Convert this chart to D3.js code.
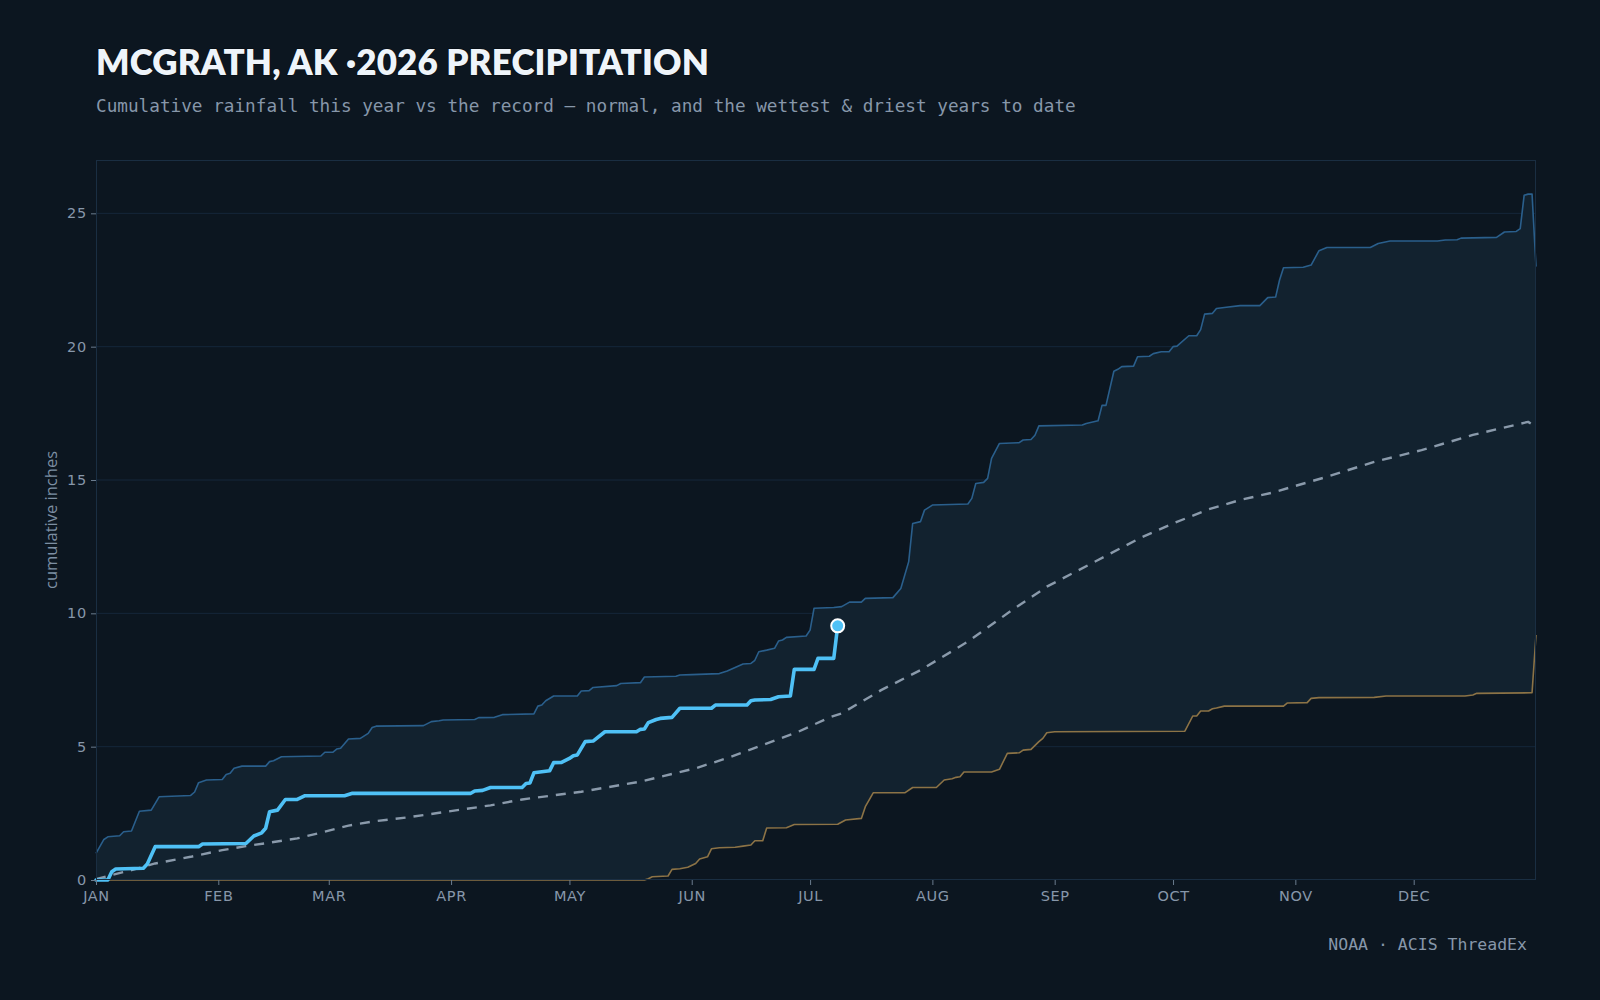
<!DOCTYPE html>
<html><head><meta charset="utf-8">
<script src="https://cdn.jsdelivr.net/npm/d3@7"></script>
<style>
html,body{margin:0;padding:0;background:#0c1620;}
svg{display:block;}
</style></head><body>
<svg id="chart" width="1600" height="1000"></svg>
<script>
// ---------- data (day offset from Jan 1 2026, cumulative inches) ----------
const titleText = "MCGRATH, AK ·2026 PRECIPITATION";
const subtitleText = "Cumulative rainfall this year vs the record — normal, and the wettest & driest years to date";
const sourceText = "NOAA · ACIS ThreadEx";
const yLabelText = "cumulative inches";
const yTicks = [0, 5, 10, 15, 20, 25];

const wettest = [[0,1.00],[2,1.52],[3,1.62],[6,1.66],[7,1.81],[9,1.84],[11,2.58],[14,2.62],[16,3.12],[24,3.17],[25,3.30],[26,3.65],[28,3.75],[32,3.77],[33,3.96],[34,4.00],[35,4.19],[37,4.27],[43,4.27],[44,4.44],[45,4.47],[47,4.62],[57,4.65],[58,4.79],[60,4.79],[61,4.91],[62,4.94],[64,5.29],[67,5.31],[69,5.50],[70,5.72],[71,5.77],[83,5.79],[85,5.94],[87,5.97],[88,6.00],[96,6.02],[97,6.09],[101,6.10],[103,6.20],[111,6.23],[112,6.52],[113,6.56],[114,6.72],[116,6.90],[122,6.90],[123,7.09],[125,7.10],[126,7.22],[132,7.29],[133,7.37],[138,7.40],[139,7.61],[147,7.64],[148,7.69],[151,7.70],[158,7.74],[160,7.84],[162,7.97],[164,8.10],[166,8.12],[167,8.24],[168,8.56],[170,8.62],[172,8.69],[173,8.96],[174,9.00],[175,9.10],[180,9.15],[181,9.37],[182,10.19],[187,10.22],[189,10.25],[191,10.42],[194,10.42],[195,10.56],[202,10.59],[204,10.93],[206,11.94],[207,13.37],[209,13.44],[210,13.87],[212,14.06],[221,14.10],[222,14.31],[223,14.87],[225,14.91],[226,15.06],[227,15.81],[229,16.37],[234,16.40],[235,16.50],[237,16.52],[238,16.68],[239,17.03],[250,17.06],[251,17.12],[254,17.22],[255,17.80],[256,17.80],[258,19.08],[259,19.15],[260,19.25],[263,19.27],[264,19.62],[267,19.64],[268,19.74],[270,19.81],[272,19.81],[273,20.00],[274,20.02],[277,20.41],[279,20.41],[280,20.64],[281,21.22],[283,21.25],[284,21.43],[286,21.47],[290,21.54],[295,21.54],[297,21.84],[299,21.86],[300,22.50],[301,22.96],[306,22.98],[308,23.06],[310,23.60],[312,23.72],[323,23.72],[325,23.87],[328,23.96],[340,23.96],[342,24.00],[345,24.01],[346,24.07],[355,24.10],[357,24.30],[360,24.32],[361,24.43],[362,25.68],[363,25.72],[364,25.72],[365,23.00]];

const driest = [[0,0],[139,0],[140,0.05],[141,0.12],[145,0.15],[146,0.40],[148,0.42],[150,0.48],[152,0.62],[153,0.79],[155,0.87],[156,1.17],[158,1.21],[162,1.23],[164,1.27],[166,1.31],[167,1.47],[169,1.47],[170,1.95],[175,1.96],[177,2.08],[188,2.09],[190,2.25],[194,2.31],[195,2.75],[197,3.27],[205,3.27],[207,3.47],[213,3.47],[215,3.75],[217,3.80],[218,3.85],[219,3.87],[220,4.05],[227,4.05],[229,4.15],[231,4.75],[234,4.77],[235,4.87],[237,4.90],[239,5.19],[240,5.31],[241,5.52],[243,5.56],[276,5.58],[278,6.15],[279,6.15],[280,6.34],[282,6.34],[283,6.42],[284,6.45],[286,6.52],[301,6.52],[302,6.64],[307,6.65],[308,6.81],[310,6.84],[324,6.85],[327,6.90],[347,6.90],[349,6.94],[350,7.00],[364,7.02],[365,9.19]];

const normal = [[0,0.03],[4,0.19],[9,0.37],[15,0.62],[24,0.87],[32,1.12],[38,1.27],[44,1.40],[51,1.56],[58,1.81],[64,2.04],[70,2.19],[79,2.35],[87,2.52],[100,2.80],[108,3.02],[123,3.31],[138,3.69],[152,4.19],[161,4.62],[169,5.06],[178,5.56],[186,6.10],[189,6.25],[197,6.94],[199,7.12],[209,7.87],[221,8.94],[232,10.10],[241,11.00],[254,12.00],[265,12.85],[273,13.37],[282,13.90],[290,14.25],[298,14.52],[312,15.12],[324,15.68],[336,16.12],[349,16.69],[363,17.18],[365,17.00]];

const thisYear = [[0,0],[3,0],[4,0.31],[5,0.41],[12,0.44],[13,0.60],[15,1.25],[26,1.25],[27,1.35],[38,1.37],[40,1.65],[42,1.77],[43,1.94],[44,2.56],[46,2.62],[48,3.02],[51,3.02],[53,3.16],[63,3.16],[65,3.25],[95,3.25],[96,3.34],[98,3.36],[100,3.47],[108,3.47],[109,3.62],[110,3.64],[111,4.02],[114,4.08],[115,4.10],[116,4.40],[118,4.41],[120,4.56],[121,4.66],[122,4.69],[124,5.19],[126,5.21],[129,5.56],[137,5.56],[138,5.65],[139,5.66],[140,5.90],[142,6.02],[143,6.06],[146,6.10],[148,6.44],[156,6.44],[157,6.56],[165,6.56],[166,6.72],[167,6.75],[171,6.77],[173,6.87],[176,6.90],[177,7.90],[182,7.90],[183,8.31],[187,8.31],[188,9.53]];

// ---------- layout ----------
const W = 1600, H = 1000;
const m = {left: 96, right: 64, top: 160, bottom: 120};
const iw = W - m.left - m.right, ih = H - m.top - m.bottom;
const day0 = Date.UTC(2026, 0, 1);
const toDate = d => new Date(day0 + d * 86400000);

const x = d3.scaleUtc().domain([toDate(0), toDate(365)]).range([m.left, m.left + iw]);
const y = d3.scaleLinear().domain([0, 27]).range([m.top + ih, m.top]);

const svg = d3.select("#chart");
svg.append("rect").attr("width", W).attr("height", H).attr("fill", "#0c1620");

// title
svg.append("text").attr("x", 96).attr("y", 75)
  .attr("font-family", "Lato, 'Open Sans', sans-serif").attr("font-weight", 800)
  .attr("font-size", 35).attr("letter-spacing", 0.15).attr("fill", "#eef4fa")
  .attr("stroke", "#05090e").attr("stroke-width", 1.2).attr("paint-order", "stroke")
  .text(titleText);
svg.append("text").attr("x", 96).attr("y", 112)
  .attr("font-family", "'DejaVu Sans Mono', monospace")
  .attr("font-size", 17.7).attr("fill", "#8797aa")
  .text(subtitleText);

// grid
const g = svg.append("g");
g.selectAll("line.grid").data(yTicks.filter(t => t > 0)).join("line")
  .attr("x1", m.left).attr("x2", m.left + iw)
  .attr("y1", d => y(d)).attr("y2", d => y(d))
  .attr("stroke", "#15273a").attr("stroke-width", 1);

// band between driest and wettest
const bandDays = Array.from(new Set(wettest.map(p => p[0]).concat(driest.map(p => p[0])))).sort((a, b) => a - b);
const interp = (arr, d) => {
  for (let i = 1; i < arr.length; i++) {
    if (arr[i][0] >= d) {
      const [d0, v0] = arr[i - 1], [d1, v1] = arr[i];
      return v0 + (v1 - v0) * (d - d0) / (d1 - d0);
    }
  }
  return arr[arr.length - 1][1];
};
const band = bandDays.map(d => ({d, lo: interp(driest, d), hi: interp(wettest, d)}));
g.append("path").datum(band)
  .attr("fill", "#12222f")
  .attr("d", d3.area().x(p => x(toDate(p.d))).y0(p => y(p.lo)).y1(p => y(p.hi)));

const line = d3.line().x(p => x(toDate(p[0]))).y(p => y(p[1]));

g.append("path").datum(wettest).attr("fill", "none")
  .attr("stroke", "#2a5f8c").attr("stroke-width", 1.6).attr("stroke-linejoin", "round").attr("d", line);
g.append("path").datum(driest).attr("fill", "none")
  .attr("stroke", "#8c7346").attr("stroke-width", 1.6).attr("stroke-linejoin", "round").attr("d", line);
g.append("path").datum(normal).attr("fill", "none")
  .attr("stroke", "#8a9aab").attr("stroke-width", 2.4).attr("stroke-dasharray", "10,8")
  .attr("stroke-linejoin", "round").attr("d", line);
g.append("path").datum(thisYear).attr("fill", "none")
  .attr("stroke", "#4fc1f6").attr("stroke-width", 3.6).attr("stroke-linejoin", "round").attr("stroke-linecap", "round").attr("d", line);
const last = thisYear[thisYear.length - 1];
g.append("circle").attr("cx", x(toDate(last[0]))).attr("cy", y(last[1])).attr("r", 6.5)
  .attr("fill", "#4fc1f6").attr("stroke", "#ffffff").attr("stroke-width", 2);

// frame
svg.append("rect").attr("x", m.left + 0.5).attr("y", m.top + 0.5).attr("width", iw - 1).attr("height", ih - 1)
  .attr("fill", "none").attr("stroke", "#1a2e42").attr("stroke-width", 1);

// axes
const xAxis = d3.axisBottom(x).ticks(d3.utcMonth.every(1))
  .tickFormat(d => d3.utcFormat("%b")(d).toUpperCase()).tickSize(5).tickPadding(6);
const xg = svg.append("g").attr("transform", `translate(0,${m.top + ih})`).call(xAxis);
xg.select(".domain").remove();
xg.selectAll(".tick").filter(d => +d >= +toDate(365)).remove();
xg.selectAll("line").attr("stroke", "#6b7c8e");
xg.selectAll("text").attr("fill", "#8797aa").attr("font-family", "'DejaVu Sans', sans-serif")
  .attr("font-size", 14.5).attr("letter-spacing", 0.6);

const yAxis = d3.axisLeft(y).tickValues(yTicks).tickSize(5).tickPadding(4);
const yg = svg.append("g").attr("transform", `translate(${m.left},0)`).call(yAxis);
yg.select(".domain").remove();
yg.selectAll("line").attr("stroke", "#6b7c8e");
yg.selectAll("text").attr("fill", "#8797aa").attr("font-family", "'DejaVu Sans', sans-serif")
  .attr("font-size", 14.5).attr("letter-spacing", 0.8);

svg.append("text").attr("transform", `translate(57,${m.top + ih / 2}) rotate(-90)`)
  .attr("text-anchor", "middle").attr("font-family", "'Open Sans', 'Noto Sans', sans-serif")
  .attr("font-size", 16.5).attr("fill", "#7d8fa3").text(yLabelText);

svg.append("text").attr("x", 1527).attr("y", 950).attr("text-anchor", "end")
  .attr("font-family", "'DejaVu Sans Mono', monospace").attr("font-size", 16.5)
  .attr("fill", "#8797aa").text(sourceText);
</script>
</body></html>
